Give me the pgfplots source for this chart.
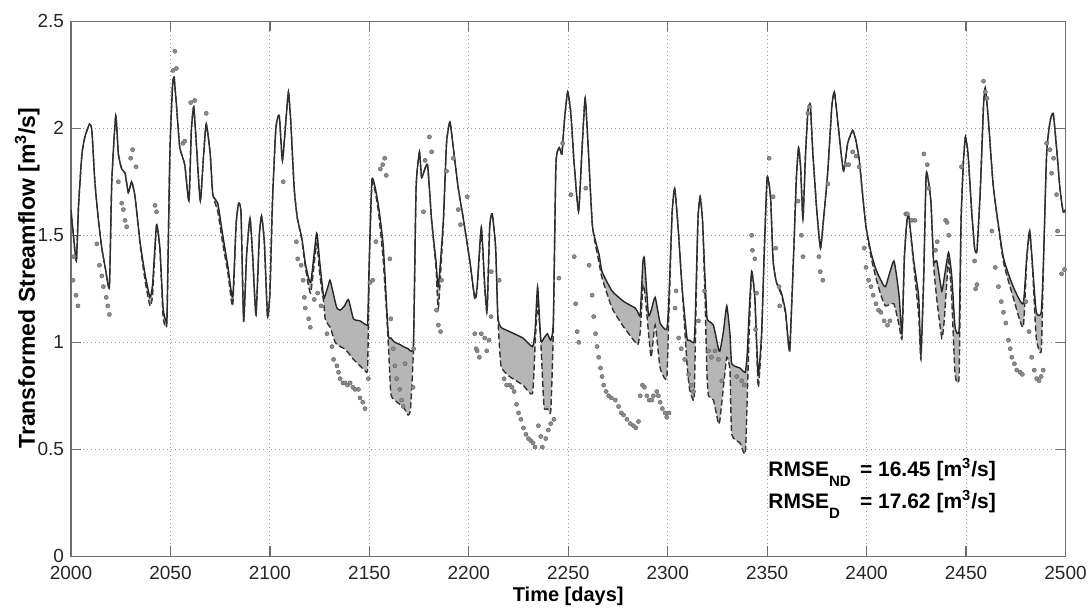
\documentclass[border=0pt]{standalone}
\usepackage{fontspec}
\setmainfont{Liberation Sans}
\usepackage{pgfplots}
\usepackage{pgfplotstable}
\pgfplotsset{compat=1.18}
\usepgfplotslibrary{fillbetween}

\definecolor{band}{RGB}{182,182,182}
\definecolor{obs}{RGB}{140,140,140}
\definecolor{frame}{RGB}{110,110,110}

% simulated flows: nd = non-drifted (solid), d = drifted (dashed)
\pgfplotstableread{
day nd d
2000.0 1.62 1.62
2001.0 1.52 1.52
2002.7 1.38 1.38
2003.8 1.64 1.64
2005.5 1.88 1.88
2007.0 1.96 1.96
2009.3 2.02 2.02
2010.5 1.99 1.99
2012.0 1.75 1.75
2013.8 1.57 1.57
2015.5 1.44 1.44
2017.2 1.35 1.35
2019.3 1.26 1.26
2020.5 1.75 1.75
2022.5 2.06 2.06
2023.8 1.88 1.88
2025.5 1.81 1.81
2027.2 1.79 1.79
2028.8 1.70 1.70
2030.5 1.75 1.75
2032.2 1.68 1.68
2034.7 1.47 1.46
2037.2 1.32 1.29
2039.7 1.21 1.17
2041.0 1.27 1.22
2043.0 1.55 1.54
2044.7 1.44 1.43
2046.3 1.16 1.12
2047.7 1.10 1.07
2048.3 1.13 1.12
2049.7 1.88 1.88
2051.0 2.19 2.19
2051.8 2.24 2.24
2053.0 2.11 2.11
2054.7 1.91 1.91
2057.2 1.83 1.83
2059.3 1.66 1.66
2060.5 1.99 1.99
2061.7 2.10 2.10
2063.0 1.93 1.93
2065.0 1.66 1.66
2066.7 1.88 1.88
2068.0 2.02 2.02
2070.0 1.88 1.88
2071.3 1.69 1.69
2073.8 1.65 1.61
2076.3 1.50 1.46
2078.8 1.36 1.33
2081.3 1.21 1.17
2083.0 1.55 1.55
2084.3 1.65 1.65
2085.5 1.60 1.60
2086.8 1.10 1.10
2088.3 1.41 1.41
2090.0 1.58 1.58
2091.3 1.41 1.41
2093.0 1.13 1.13
2094.7 1.50 1.50
2095.8 1.59 1.59
2097.2 1.47 1.47
2098.8 1.12 1.12
2100.0 1.23 1.23
2101.3 1.66 1.66
2103.0 2.00 2.00
2104.7 2.06 2.06
2106.3 1.85 1.85
2108.0 2.03 2.03
2109.3 2.17 2.17
2110.5 2.03 2.03
2112.2 1.72 1.72
2113.8 1.58 1.58
2116.0 1.49 1.48
2118.0 1.36 1.34
2120.5 1.28 1.23
2123.5 1.51 1.46
2125.0 1.38 1.32
2127.0 1.21 1.19
2127.8 1.22 1.11
2129.5 1.27 1.08
2130.3 1.29 1.07
2132.8 1.19 1.00
2133.7 1.16 0.99
2135.3 1.15 0.98
2137.5 1.17 0.97
2139.5 1.20 0.95
2142.0 1.11 0.92
2145.3 1.10 0.89
2148.7 1.08 0.86
2149.2 1.10 0.90
2150.0 1.40 1.38
2151.3 1.76 1.74
2153.0 1.72 1.70
2154.7 1.63 1.60
2157.0 1.45 1.38
2159.5 1.04 1.00
2160.8 1.02 0.76
2162.8 1.00 0.73
2165.3 0.99 0.71
2167.0 0.98 0.70
2169.5 0.97 0.66
2170.7 0.96 0.69
2172.2 1.00 0.98
2173.5 1.72 1.72
2175.2 1.89 1.89
2176.3 1.77 1.77
2179.2 1.83 1.83
2181.3 1.57 1.57
2183.5 1.38 1.35
2184.7 1.26 1.16
2187.2 1.57 1.55
2188.8 1.93 1.93
2190.5 2.03 2.03
2192.2 1.91 1.91
2194.7 1.72 1.72
2197.2 1.58 1.58
2200.5 1.38 1.38
2203.0 1.21 1.20
2204.2 1.26 1.25
2206.3 1.54 1.52
2208.0 1.27 1.25
2209.2 1.15 1.14
2210.5 1.54 1.54
2211.8 1.60 1.60
2213.5 1.44 1.44
2214.6 1.12 1.12
2216.2 1.07 0.89
2220.5 1.05 0.84
2227.2 1.02 0.80
2232.0 0.98 0.76
2233.3 1.05 0.98
2234.6 1.26 1.18
2236.2 1.01 1.00
2237.8 1.02 0.70
2239.5 1.04 0.69
2241.2 1.01 0.68
2242.5 1.10 1.05
2243.8 1.83 1.83
2245.5 1.91 1.91
2246.8 1.88 1.88
2248.0 2.03 2.03
2249.7 2.17 2.17
2251.3 2.07 2.07
2253.0 1.83 1.83
2255.2 1.61 1.61
2256.8 1.88 1.88
2258.5 2.14 2.14
2260.2 1.88 1.88
2262.2 1.54 1.54
2265.5 1.41 1.37
2267.0 1.33 1.30
2272.0 1.24 1.16
2278.0 1.19 1.07
2283.7 1.16 1.00
2285.0 1.14 0.99
2286.2 1.13 1.05
2287.5 1.37 1.26
2288.3 1.39 1.25
2290.3 1.13 1.05
2291.7 1.15 0.93
2293.7 1.21 1.08
2296.2 1.09 0.88
2299.5 1.06 0.83
2300.5 1.18 1.10
2302.2 1.60 1.60
2303.5 1.72 1.72
2305.2 1.54 1.54
2307.2 1.26 1.26
2309.7 1.02 0.90
2311.0 1.01 0.78
2313.2 1.00 0.73
2313.8 1.10 0.95
2315.2 1.57 1.57
2316.3 1.68 1.68
2317.5 1.57 1.57
2318.8 1.29 1.20
2319.7 1.12 0.86
2320.5 1.10 0.75
2323.0 1.08 0.73
2325.5 0.97 0.62
2326.3 0.96 0.64
2328.0 1.05 0.79
2329.7 1.17 0.93
2331.3 1.04 0.87
2332.2 0.90 0.57
2336.3 0.88 0.53
2339.0 0.86 0.48
2340.0 0.95 0.75
2341.0 1.15 1.05
2342.2 1.33 1.33
2343.8 1.21 1.21
2345.5 0.85 0.79
2347.2 1.04 1.02
2348.5 1.41 1.41
2350.0 1.77 1.77
2351.7 1.68 1.68
2353.0 1.38 1.38
2354.7 1.28 1.28
2357.2 1.23 1.22
2359.3 1.14 1.13
2361.3 0.96 0.96
2363.3 1.41 1.41
2364.7 1.77 1.77
2365.8 1.91 1.91
2366.8 1.82 1.82
2368.0 1.58 1.58
2369.3 1.88 1.88
2370.5 2.08 2.08
2371.7 2.11 2.11
2373.0 1.88 1.88
2375.0 1.61 1.61
2376.8 1.44 1.44
2378.3 1.57 1.57
2380.5 1.80 1.80
2382.5 2.10 2.10
2383.8 2.17 2.17
2385.5 2.03 2.03
2387.2 1.88 1.88
2388.5 1.80 1.80
2390.5 1.93 1.93
2393.0 1.99 1.99
2394.7 1.94 1.94
2396.3 1.85 1.85
2398.0 1.69 1.69
2399.7 1.54 1.54
2402.2 1.42 1.40
2404.7 1.34 1.30
2407.2 1.29 1.22
2409.5 1.26 1.17
2413.7 1.38 1.18
2416.3 1.22 1.08
2417.8 1.04 1.02
2419.0 1.40 1.40
2420.3 1.57 1.57
2421.2 1.59 1.59
2423.7 1.38 1.36
2426.2 1.21 1.12
2427.3 0.94 0.92
2428.7 1.30 1.30
2430.0 1.79 1.79
2432.3 1.66 1.66
2433.7 1.38 1.36
2435.3 1.38 1.20
2437.8 1.24 1.02
2439.0 1.30 1.10
2441.2 1.42 1.38
2442.8 1.31 1.20
2444.5 1.07 0.85
2446.5 1.06 0.84
2447.5 1.57 1.57
2448.7 1.85 1.85
2449.7 1.96 1.96
2451.0 1.88 1.88
2452.7 1.63 1.63
2454.3 1.44 1.44
2455.5 1.43 1.43
2457.2 1.72 1.72
2458.8 2.11 2.11
2459.7 2.19 2.19
2461.3 2.03 2.03
2463.8 1.72 1.72
2468.7 1.40 1.38
2473.7 1.26 1.21
2478.7 1.18 1.07
2480.5 1.40 1.38
2482.0 1.52 1.52
2483.5 1.35 1.33
2485.3 1.14 1.02
2487.8 1.14 0.96
2489.0 1.40 1.40
2490.5 1.88 1.88
2492.2 2.03 2.03
2493.8 2.07 2.07
2495.5 1.91 1.91
2497.2 1.72 1.72
2498.8 1.61 1.61
2500.0 1.62 1.62
}\flows

% observed flows
\pgfplotstableread{
day q
2001.0 1.29
2001.5 1.40
2002.5 1.22
2003.5 1.17
2013.0 1.46
2014.3 1.36
2015.5 1.31
2016.3 1.26
2017.7 1.21
2018.5 1.17
2019.3 1.13
2023.8 1.75
2025.5 1.65
2026.3 1.62
2027.2 1.57
2028.0 1.54
2030.0 1.86
2031.0 1.90
2032.7 1.82
2042.2 1.64
2043.0 1.61
2051.3 2.27
2052.2 2.36
2053.0 2.28
2056.3 1.93
2057.2 1.94
2060.2 2.12
2062.2 2.13
2068.0 2.07
2106.7 1.75
2113.3 1.47
2114.0 1.39
2115.7 1.36
2116.7 1.29
2117.3 1.21
2117.8 1.16
2119.5 1.11
2120.3 1.07
2122.3 1.20
2124.0 1.23
2125.7 1.17
2128.7 1.04
2131.2 0.98
2132.0 0.92
2133.7 0.89
2134.5 0.86
2135.3 0.83
2136.7 0.81
2137.8 0.81
2139.0 0.80
2140.3 0.81
2141.7 0.79
2142.8 0.78
2144.5 0.78
2145.3 0.74
2146.7 0.72
2147.8 0.69
2149.5 0.83
2150.3 1.28
2151.7 1.29
2153.3 1.47
2155.5 1.81
2156.7 1.83
2157.7 1.86
2158.5 1.78
2160.3 1.39
2160.8 1.11
2162.0 0.97
2162.8 0.89
2163.7 0.83
2165.3 0.78
2166.2 0.73
2167.0 0.70
2168.0 0.90
2172.0 0.79
2172.3 0.97
2177.2 1.61
2178.0 1.85
2180.2 1.96
2181.3 1.89
2183.8 1.15
2184.7 1.08
2185.8 1.05
2186.3 1.29
2188.8 1.80
2192.2 1.86
2194.7 1.62
2195.8 1.55
2199.2 1.68
2203.0 1.04
2203.7 0.97
2204.2 0.96
2205.3 0.93
2206.3 1.04
2208.0 1.02
2209.0 0.96
2210.2 1.01
2211.2 1.12
2211.3 1.33
2215.3 1.29
2217.8 0.83
2219.0 0.80
2220.7 0.80
2221.7 0.79
2222.8 0.77
2224.0 0.71
2225.0 0.67
2226.2 0.64
2227.5 0.60
2228.7 0.57
2230.0 0.55
2231.2 0.54
2232.3 0.53
2233.3 0.51
2235.0 0.61
2236.2 0.56
2237.0 0.51
2238.7 0.55
2240.0 0.59
2241.2 0.62
2242.8 0.64
2245.3 1.30
2247.2 1.93
2251.3 1.69
2253.0 1.40
2253.7 1.18
2254.5 1.05
2255.3 1.00
2258.8 1.72
2260.5 1.36
2262.0 1.22
2262.8 1.12
2263.7 1.04
2264.5 0.98
2265.3 0.93
2266.2 0.88
2267.0 0.84
2267.8 0.80
2269.0 0.77
2270.3 0.75
2271.7 0.74
2273.7 0.73
2275.3 0.70
2276.7 0.67
2277.8 0.66
2279.5 0.64
2281.2 0.62
2282.8 0.61
2284.0 0.60
2285.3 0.63
2286.2 0.75
2287.3 0.80
2288.3 0.79
2289.5 0.75
2290.7 0.73
2292.0 0.73
2292.8 0.75
2294.5 0.77
2295.3 0.75
2296.2 0.72
2297.3 0.69
2298.7 0.67
2299.5 0.65
2300.7 0.67
2303.7 1.16
2304.2 1.24
2305.5 1.02
2306.8 0.97
2308.5 0.92
2310.5 0.85
2311.8 0.80
2313.0 0.77
2315.5 1.10
2318.5 1.24
2320.5 0.96
2322.0 0.93
2323.8 0.96
2325.5 0.92
2327.2 0.82
2334.7 0.84
2337.2 0.82
2338.5 0.80
2342.2 1.50
2342.6 1.43
2343.8 1.39
2344.7 1.23
2344.2 1.06
2351.0 1.86
2353.0 1.68
2354.3 1.44
2356.0 1.26
2356.3 1.17
2365.5 1.66
2367.2 1.50
2368.0 1.40
2370.5 2.07
2371.3 2.10
2376.0 1.40
2376.7 1.33
2378.0 1.29
2380.5 1.74
2389.7 1.83
2391.0 1.83
2393.0 1.89
2394.7 1.87
2396.3 1.82
2398.8 1.44
2399.7 1.35
2401.0 1.29
2402.2 1.26
2403.3 1.22
2404.7 1.18
2406.0 1.15
2407.2 1.14
2408.8 1.10
2410.5 1.08
2411.7 1.10
2419.7 1.60
2420.5 1.60
2422.7 1.57
2424.3 1.57
2428.8 1.88
2430.5 1.83
2431.3 1.72
2434.7 1.43
2435.5 1.47
2439.7 1.57
2440.5 1.56
2441.3 1.50
2447.7 1.82
2454.3 1.38
2455.5 1.27
2454.8 1.25
2458.8 2.22
2459.7 2.17
2460.5 2.14
2463.0 1.52
2464.7 1.35
2466.3 1.26
2467.7 1.19
2468.8 1.14
2470.0 1.09
2471.3 1.01
2472.2 0.97
2473.0 0.93
2474.3 0.90
2475.5 0.87
2477.2 0.86
2478.3 0.85
2480.0 1.19
2481.7 1.05
2483.0 0.93
2484.3 0.87
2485.5 0.83
2486.7 0.82
2487.7 0.84
2488.8 0.87
2490.5 1.93
2492.2 1.90
2493.0 1.79
2494.0 1.86
2495.5 1.69
2496.0 1.52
2498.0 1.32
2499.5 1.34
}\obsdata

\newcommand{\sub}[1]{\raisebox{-5pt}{\fontsize{7.5}{8}\selectfont #1}}
\tikzset{rmse/.style={anchor=base west, inner sep=0pt, font=\bfseries\fontsize{10.5}{12}\selectfont}}

\begin{document}
\begin{tikzpicture}
\begin{axis}[
    name=ax,
    width=497.25pt, height=267.5pt,
    scale only axis,
    xmin=2000, xmax=2500,
    ymin=0, ymax=2.5,
    xtick={2000,2050,...,2500},
    ytick={0,0.5,1,1.5,2,2.5},
    tick align=inside,
    major tick length=5pt,
    axis line style={draw=frame, line width=0.6pt},
    tick style={draw=frame, line width=0.6pt},
    grid=major,
    major grid style={draw=black!40, line width=0.5pt, dash pattern=on 0.5pt off 1.5pt},
    ticklabel style={font=\fontsize{9.5}{11}\selectfont, text=black!85},
    xticklabel style={yshift=-1.2pt},
    /pgf/number format/assume math mode=true,
    /pgf/number format/1000 sep={},
    xlabel={\textbf{Time [days]}},
    ylabel={\textbf{Transformed Streamflow [m\textsuperscript{3}/s]}},
    xlabel style={font=\fontsize{10}{12}\selectfont, at={(axis description cs:0.5,-0.0854)}, anchor=base},
    ylabel style={font=\fontsize{11.5}{13}\selectfont, at={(axis description cs:-0.044,0.52)}, anchor=center},
]
\addplot[name path=nd, draw=none, forget plot, smooth, tension=0.3] table[x=day, y=nd] {\flows};
\addplot[name path=d, draw=none, forget plot, smooth, tension=0.3] table[x=day, y=d] {\flows};
\addplot[fill=band, draw=none] fill between[of=nd and d];
\addplot[black!85, line width=0.7pt, smooth, tension=0.3] table[x=day, y=nd] {\flows};
\addplot[black!80, line width=0.7pt, smooth, tension=0.3, dash pattern=on 3pt off 1.5pt] table[x=day, y=d] {\flows};
\addplot[only marks, mark=*, mark size=1.05pt,
    mark options={fill=obs, draw=obs!70!black, line width=0.2pt}]
    table[x=day, y=q] {\obsdata};

\node[rmse] at (axis cs:2350.4,0.375) {RMSE\sub{ND}};
\node[rmse] at (axis cs:2396.5,0.375) {= 16.45 [m\textsuperscript{3}/s]};
\node[rmse] at (axis cs:2350.4,0.224) {RMSE\sub{D}};
\node[rmse] at (axis cs:2396.5,0.224) {= 17.62 [m\textsuperscript{3}/s]};
\end{axis}
\pgfresetboundingbox
\path ([xshift=-35.5pt,yshift=-25.85pt]ax.south west) rectangle ([xshift=12.25pt,yshift=10.65pt]ax.north east);
\end{tikzpicture}
\end{document}
